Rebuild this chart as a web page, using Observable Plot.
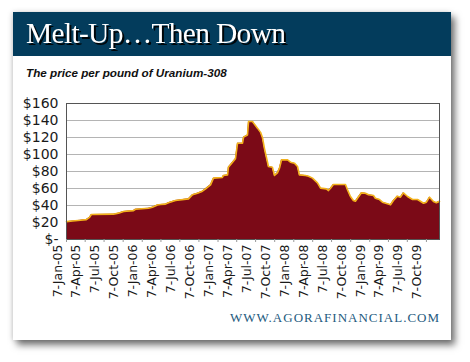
<!DOCTYPE html>
<html><head><meta charset="utf-8">
<script src="https://cdn.jsdelivr.net/npm/d3@7"></script>
<script src="https://cdn.jsdelivr.net/npm/@observablehq/plot@0.6"></script>
<style>
html,body{margin:0;padding:0;background:#fff;width:470px;height:362px;overflow:hidden}
#card{position:absolute;left:13px;top:12px;width:438px;height:328px;background:#fff;box-shadow:4px 5px 7px rgba(0,0,0,0.55),-1px 0 5px rgba(0,0,0,0.15)}
#deco{position:absolute;left:0;top:0}
#chart{position:absolute;left:0;top:90px}
</style></head>
<body>
<div id="card"></div>
<svg id="deco" width="470" height="362">
  <rect x="13" y="12" width="438" height="44" fill="#033c5c"/>
  <text x="26" y="43" font-family="Liberation Serif" font-size="29.5" letter-spacing="-0.7" fill="#fff" style="filter:drop-shadow(2px 2px 0.6px rgba(0,0,0,0.9))">Melt-Up…Then Down</text>
  <text x="26" y="77" font-family="Liberation Sans" font-size="11.7" font-weight="bold" font-style="italic" fill="#111">The price per pound of Uranium-308</text>
  <text x="440" y="322" text-anchor="end" font-family="Liberation Serif" font-size="13" letter-spacing="1" fill="#245a7e">WWW.AGORAFINANCIAL.COM</text>
</svg>
<div id="chart"></div>
<script>
const dates = ["2005-01-07","2005-02-05","2005-03-15","2005-04-13","2005-04-28","2005-05-07","2005-08-21","2005-09-14","2005-10-09","2005-11-26","2005-12-05","2006-02-06","2006-02-25","2006-03-21","2006-04-05","2006-04-29","2006-05-13","2006-06-16","2006-08-18","2006-09-06","2006-09-30","2006-10-24","2006-11-08","2006-12-02","2006-12-16","2007-01-28","2007-02-02","2007-02-22","2007-02-26","2007-03-18","2007-04-01","2007-04-11","2007-05-05","2007-05-10","2007-05-29","2007-06-03","2007-06-22","2007-06-27","2007-07-16","2007-07-31","2007-08-09","2007-08-19","2007-08-28","2007-09-07","2007-09-26","2007-10-06","2007-10-20","2007-10-30","2007-11-09","2007-12-08","2007-12-22","2008-01-10","2008-01-25","2008-02-03","2008-03-03","2008-03-18","2008-04-06","2008-04-30","2008-05-15","2008-06-12","2008-06-22","2008-07-02","2008-07-16","2008-09-12","2008-09-22","2008-10-06","2008-10-20","2008-10-30","2008-11-09","2008-11-28","2008-12-17","2009-01-01","2009-01-25","2009-02-03","2009-02-23","2009-03-09","2009-04-02","2009-04-17","2009-05-01","2009-05-20","2009-06-04","2009-06-18","2009-07-08","2009-08-01","2009-08-25","2009-09-08","2009-09-23","2009-10-07","2009-10-22","2009-11-10","2009-11-24","2009-12-09"];
const prices = [21,21.8,22.6,23.4,26,29.4,29.8,31,33,34,35.5,36.8,38,40.6,41.2,41.6,43.2,45.9,47.8,52.6,54.5,56.9,59.6,64.3,72.2,73,75.3,76,85,91,95,113.3,113.3,120.4,123,138.8,138.8,137,131,126,120,106.7,96.8,85.9,85,75.3,78.4,83.9,93.7,93.7,91,89.8,85.9,76,75.3,74.5,72.2,66.7,60.4,59.6,57.6,60.4,64.7,64.7,58.4,50.6,45.9,45,48.6,54.9,54.5,52.6,51.8,48.6,47,43.9,42,40.8,45.9,51,49.8,54.9,50.6,47,47,45,42.7,43.9,49.8,44.7,43.2,45];
const tickDates = ["2005-01-07","2005-04-07","2005-07-07","2005-10-07","2006-01-07","2006-04-07","2006-07-07","2006-10-07","2007-01-07","2007-04-07","2007-07-07","2007-10-07","2008-01-07","2008-04-07","2008-07-07","2008-10-07","2009-01-07","2009-04-07","2009-07-07","2009-10-07"];
const yTicks = [0,20,40,60,80,100,120,140,160];

const data = dates.map((d,i)=>({date:new Date(d), price:prices[i]}));
const ticks = tickDates.map(d=>new Date(d));
const fmt = d3.utcFormat("%b");

const chart = Plot.plot({
  width:470, height:215,
  marginTop:13, marginBottom:66, marginLeft:66, marginRight:31,
  style:{background:"transparent", fontFamily:"DejaVu Sans", color:"#1a1a1a", overflow:"visible"},
  x:{type:"utc", domain:[new Date("2005-01-07"), new Date("2009-12-09")]},
  y:{domain:[0,160]},
  marks:[
    Plot.gridY(yTicks, {stroke:"#b4b4b4", strokeOpacity:1}),
    Plot.areaY(data, {x:"date", y:"price", fill:"#7b0a17"}),
    Plot.lineY(data, {x:"date", y:"price", stroke:"#f3b21c", strokeWidth:1.6}),
    Plot.frame({stroke:"#555"}),
    Plot.axisY(yTicks, {tickSize:0, tickPadding:8, fontSize:14, label:null, tickFormat:d=> d===0 ? "$-" : "$"+d}),
    Plot.axisX(ticks, {tickSize:3, stroke:"#999", tickFormat:()=>"", label:null}),
    Plot.axisX(ticks, {tickSize:0, tickPadding:5, tickRotate:-90, fontSize:12.5, dx:-9, label:null,
      tickFormat:d=> d.getUTCDate()+"-"+fmt(d)+"-"+String(d.getUTCFullYear()).slice(2)})
  ]
});
document.getElementById("chart").appendChild(chart);
</script>
</body></html>
